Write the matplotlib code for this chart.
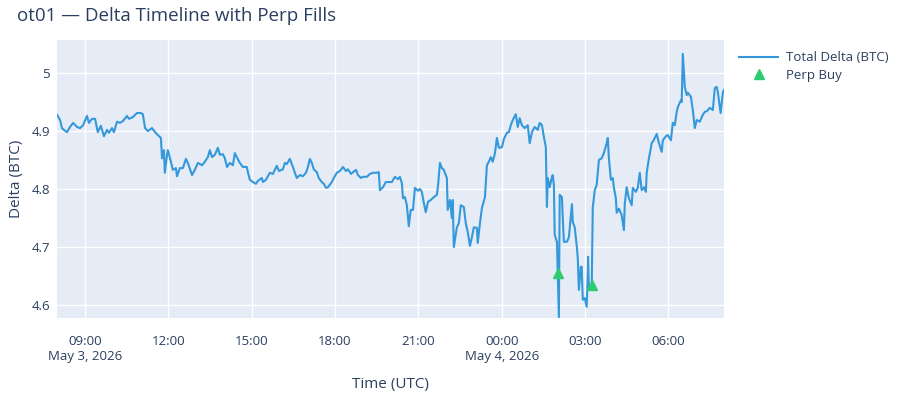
import numpy as np
import pandas as pd
import matplotlib
matplotlib.use("Agg")
import matplotlib.pyplot as plt
import matplotlib.dates as mdates

plt.rcParams['font.family'] = ['Open Sans', 'DejaVu Sans']

# hours after 2026-05-03 08:00 UTC
hours = [0.00, 0.11, 0.18, 0.25, 0.36, 0.47, 0.58, 0.72, 0.83, 0.94,
         1.08, 1.15, 1.26, 1.37, 1.47, 1.58, 1.69, 1.80, 1.87, 1.98,
         2.05, 2.16, 2.27, 2.37, 2.52, 2.59, 2.73, 2.88, 3.02, 3.09,
         3.17, 3.27, 3.42, 3.53, 3.63, 3.74, 3.78, 3.85, 3.88, 3.96,
         3.99, 4.10, 4.17, 4.28, 4.32, 4.42, 4.53, 4.64, 4.71, 4.86,
         4.96, 5.07, 5.22, 5.32, 5.43, 5.50, 5.58, 5.68, 5.79, 5.86,
         5.97, 6.04, 6.12, 6.22, 6.33, 6.40, 6.47, 6.58, 6.69, 6.83,
         6.87, 6.94, 7.05, 7.16, 7.23, 7.37, 7.41, 7.52, 7.66, 7.77,
         7.91, 7.99, 8.13, 8.20, 8.27, 8.38, 8.49, 8.56, 8.63, 8.74,
         8.85, 8.96, 9.03, 9.10, 9.17, 9.24, 9.35, 9.42, 9.53, 9.60,
         9.68, 9.75, 9.89, 9.96, 10.07, 10.18, 10.29, 10.40, 10.47, 10.58,
         10.65, 10.76, 10.83, 10.94, 11.01, 11.15, 11.26, 11.37, 11.51, 11.58,
         11.62, 11.73, 11.83, 11.91, 12.05, 12.16, 12.27, 12.34, 12.41, 12.45,
         12.52, 12.59, 12.66, 12.73, 12.81, 12.88, 12.99, 13.06, 13.13, 13.20,
         13.27, 13.35, 13.45, 13.56, 13.67, 13.71, 13.78, 13.85, 13.92, 14.03,
         14.06, 14.14, 14.21, 14.24, 14.28, 14.39, 14.46, 14.53, 14.64, 14.71,
         14.78, 14.86, 14.93, 15.00, 15.11, 15.14, 15.22, 15.29, 15.40, 15.47,
         15.54, 15.61, 15.68, 15.76, 15.83, 15.90, 16.01, 16.08, 16.19, 16.26,
         16.33, 16.40, 16.51, 16.58, 16.65, 16.73, 16.83, 16.94, 17.01, 17.09,
         17.19, 17.30, 17.37, 17.45, 17.52, 17.59, 17.63, 17.66, 17.73, 17.81,
         17.84, 17.88, 17.91, 17.99, 18.02, 18.06, 18.09, 18.17, 18.20, 18.24,
         18.35, 18.42, 18.53, 18.56, 18.63, 18.71, 18.74, 18.78, 18.85, 18.88,
         18.92, 18.99, 19.06, 19.10, 19.11, 19.14, 19.21, 19.24, 19.28, 19.30,
         19.35, 19.42, 19.46, 19.50, 19.60, 19.68, 19.78, 19.82, 19.86, 19.93,
         20.00, 20.04, 20.11, 20.14, 20.22, 20.32, 20.40, 20.43, 20.50, 20.58,
         20.68, 20.72, 20.83, 20.90, 20.97, 21.04, 21.12, 21.19, 21.22, 21.29,
         21.40, 21.47, 21.58, 21.65, 21.76, 21.80, 21.91, 21.98, 22.09, 22.16,
         22.23, 22.30, 22.34, 22.45, 22.48, 22.52, 22.59, 22.66, 22.70, 22.81,
         22.88, 22.95, 23.02, 23.13, 23.24, 23.31, 23.38, 23.49, 23.60, 23.67,
         23.74, 23.78, 23.88, 23.96, 24.00]

delta = [4.928, 4.919, 4.905, 4.902, 4.898, 4.907, 4.914, 4.907, 4.905, 4.910,
         4.926, 4.914, 4.921, 4.921, 4.898, 4.909, 4.891, 4.902, 4.897, 4.905,
         4.898, 4.916, 4.914, 4.917, 4.926, 4.921, 4.924, 4.931, 4.931, 4.929,
         4.905, 4.900, 4.905, 4.898, 4.893, 4.888, 4.853, 4.867, 4.828, 4.859,
         4.867, 4.847, 4.833, 4.836, 4.822, 4.836, 4.836, 4.852, 4.845, 4.824,
         4.833, 4.845, 4.841, 4.847, 4.855, 4.867, 4.855, 4.859, 4.871, 4.859,
         4.860, 4.853, 4.838, 4.845, 4.841, 4.862, 4.855, 4.845, 4.838, 4.838,
         4.829, 4.816, 4.812, 4.809, 4.814, 4.819, 4.812, 4.816, 4.828, 4.826,
         4.840, 4.831, 4.834, 4.845, 4.843, 4.852, 4.838, 4.828, 4.819, 4.824,
         4.822, 4.828, 4.838, 4.852, 4.845, 4.834, 4.829, 4.819, 4.812, 4.809,
         4.802, 4.803, 4.812, 4.819, 4.828, 4.831, 4.838, 4.831, 4.834, 4.826,
         4.829, 4.833, 4.824, 4.819, 4.821, 4.821, 4.826, 4.828, 4.828, 4.829,
         4.798, 4.803, 4.812, 4.812, 4.812, 4.821, 4.817, 4.821, 4.810, 4.784,
         4.786, 4.772, 4.736, 4.764, 4.764, 4.802, 4.797, 4.800, 4.795, 4.776,
         4.760, 4.778, 4.781, 4.786, 4.790, 4.805, 4.845, 4.836, 4.833, 4.819,
         4.764, 4.781, 4.750, 4.781, 4.700, 4.734, 4.741, 4.772, 4.769, 4.741,
         4.726, 4.702, 4.717, 4.734, 4.733, 4.707, 4.741, 4.767, 4.786, 4.841,
         4.847, 4.855, 4.847, 4.862, 4.888, 4.871, 4.872, 4.886, 4.897, 4.898,
         4.910, 4.919, 4.929, 4.907, 4.922, 4.910, 4.905, 4.910, 4.879, 4.898,
         4.907, 4.902, 4.914, 4.910, 4.890, 4.872, 4.769, 4.819, 4.803, 4.821,
         4.824, 4.807, 4.721, 4.709, 4.655, 4.579, 4.790, 4.786, 4.750, 4.709,
         4.709, 4.717, 4.774, 4.743, 4.734, 4.698, 4.681, 4.626, 4.666, 4.666,
         4.609, 4.612, 4.597, 4.652, 4.683, 4.626, 4.634, 4.626, 4.769, 4.776,
         4.798, 4.807, 4.828, 4.850, 4.853, 4.862, 4.879, 4.888, 4.853, 4.816,
         4.819, 4.802, 4.784, 4.759, 4.766, 4.755, 4.729, 4.774, 4.803, 4.784,
         4.772, 4.802, 4.795, 4.802, 4.828, 4.798, 4.803, 4.795, 4.828, 4.850,
         4.879, 4.884, 4.895, 4.881, 4.864, 4.884, 4.891, 4.893, 4.884, 4.914,
         4.910, 4.933, 4.941, 4.953, 4.950, 5.033, 4.976, 4.962, 4.966, 4.959,
         4.936, 4.905, 4.919, 4.916, 4.928, 4.933, 4.934, 4.940, 4.936, 4.974,
         4.976, 4.967, 4.931, 4.966, 4.971]

buy_hours = [18.02, 19.24]
buy_delta = [4.655, 4.634]

tick_hours = [1, 4, 7, 10, 13, 16, 19, 22]
tick_labels = ["09:00\nMay 3, 2026", "12:00", "15:00", "18:00", "21:00",
               "00:00\nMay 4, 2026", "03:00", "06:00"]

base = pd.Timestamp("2026-05-03 08:00")
t = base + pd.to_timedelta(hours, unit="h")
tb = base + pd.to_timedelta(buy_hours, unit="h")
tt = base + pd.to_timedelta(tick_hours, unit="h")

txt = "#2a3f5f"
fig = plt.figure(figsize=(9, 4), dpi=100)
ax = fig.add_axes([0.0633, 0.205, 0.7411, 0.695])
ax.set_facecolor("#E5ECF6")

ax.plot(t, delta, color="#3498db", lw=1.5, label="Total Delta (BTC)", zorder=3)
ax.plot(tb, buy_delta, ls="none", marker="^", ms=7, color="#2ecc71",
        label="Perp Buy", zorder=4)

ax.set_xlim(t[0], t[-1])
ax.set_ylim(4.5776, 5.0569)
ax.set_xticks(tt)
ax.set_xticklabels(tick_labels)
ax.set_yticks([4.6, 4.7, 4.8, 4.9, 5.0])
ax.set_yticklabels(["4.6", "4.7", "4.8", "4.9", "5"])
ax.grid(True, color="white", lw=1)
ax.set_axisbelow(True)
for s in ax.spines.values():
    s.set_visible(False)
ax.tick_params(length=0, labelsize=9.5, colors=txt, pad=5)
ax.tick_params(axis="x", pad=12)
for lab in ax.get_xticklabels():
    lab.set_horizontalalignment("center")

ax.set_xlabel("Time (UTC)", fontsize=11, color=txt, labelpad=10)
ax.set_ylabel("Delta (BTC)", fontsize=11, color=txt, labelpad=5)
fig.text(0.019, 0.96, "ot01 — Delta Timeline with Perp Fills", fontsize=13.5,
         color=txt, va="center", ha="left")

fig.legend(loc="upper left", bbox_to_anchor=(0.815, 0.885), frameon=False,
           fontsize=9.5, labelcolor=txt, handlelength=3.0, handletextpad=0.6,
           labelspacing=0.35, borderaxespad=0)

fig.savefig("out.png", dpi=100)
